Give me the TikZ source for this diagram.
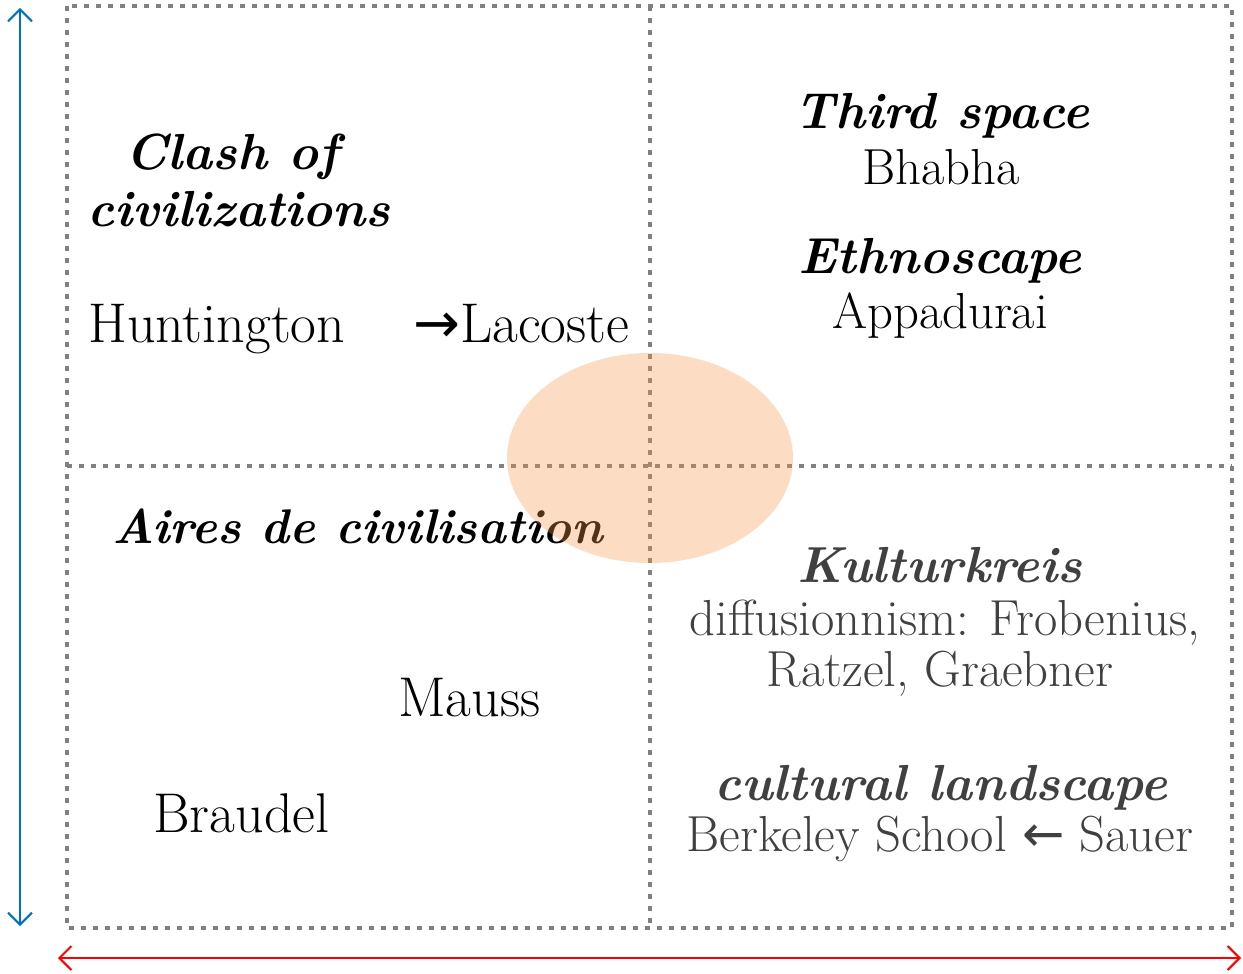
\documentclass[tikz,border=0pt]{standalone}
\usepackage{fontspec}
\newfontfamily\arrowfont{DejaVu Sans}
\usetikzlibrary{arrows.meta}
\definecolor{gridgray}{RGB}{128,128,128}
\definecolor{axisblue}{RGB}{0,112,192}
\definecolor{ellfill}{RGB}{247,150,70}
\definecolor{darktext}{RGB}{64,64,64}
\tikzset{
  grid/.style={draw=gridgray, line width=3.4pt, dash pattern=on 3.4pt off 5.6pt},
  lbl/.style={inner sep=0pt, font=\fontsize{38}{46}\selectfont},
  lblbig/.style={inner sep=0pt, font=\fontsize{42}{50}\selectfont},
  head/.style={inner sep=0pt, font=\fontsize{38}{46}\selectfont\bfseries\itshape},
  axis/.style={line width=1.5pt, {Straight Barb[length=9pt,width=18pt]}-{Straight Barb[length=9pt,width=18pt]}},
}
\begin{document}
\begin{tikzpicture}[x=0.75pt,y=-0.75pt]
\path[use as bounding box] (0,0) rectangle (1243,974);
% grid
\coordinate (tl) at (67,6);
\coordinate (br) at (1232,928);
\coordinate (mt) at (650,6);
\coordinate (mb) at (650,928);
\coordinate (ml) at (67,466);
\coordinate (mr) at (1232,466);
\draw[grid] (tl) rectangle (br);
\draw[grid] (mt) -- (mb);
\draw[grid] (ml) -- (mr);
% axes
\coordinate (vt) at (20,8);
\coordinate (vb) at (20,926);
\coordinate (hl) at (58,958);
\coordinate (hr) at (1241,958);
\draw[axis, draw=axisblue] (vt) -- (vb);
\draw[axis, draw=red] (hl) -- (hr);
% texts
\node[head, anchor=base] (clash) at (232,170) {Clash of};
\node[head, anchor=base] (civ) at (239,226) {civilizations};
\node[lblbig, anchor=base west] (hunt) at (88,342) {Huntington};
\node[lblbig, anchor=base west] (lac) at (413,342) {{\arrowfont →}Lacoste};
\node[head, anchor=base] (third) at (942,128) {Third space};
\node[lbl, anchor=base] (bhabha) at (941,185) {Bhabha};
\node[head, anchor=base] (ethno) at (940,273) {Ethnoscape};
\node[lbl, anchor=base] (appa) at (940,328) {Appadurai};
\node[head, anchor=base west, font=\fontsize{36.5}{44}\selectfont\bfseries\itshape] (aires) at (112,543) {Aires de civilisation};
\node[lblbig, anchor=base west] (mauss) at (398,716) {Mauss};
\node[lblbig, anchor=base west] (braudel) at (153,832) {Braudel};
\node[head, anchor=base, text=darktext] (kult) at (940,582) {Kulturkreis};
\node[lbl, anchor=base, text=darktext] (diff) at (945,635) {diffusionnism: Frobenius,};
\node[lbl, anchor=base, text=darktext] (ratz) at (940,686) {Ratzel, Graebner};
\node[head, anchor=base, text=darktext] (cult) at (941,800) {cultural landscape};
\node[lbl, anchor=base, text=darktext] (berk) at (940,851) {Berkeley School {\arrowfont ←} Sauer};
% ellipse
\fill[ellfill, opacity=0.33] (650,458) ellipse [x radius=143, y radius=105];
\end{tikzpicture}
\end{document}
